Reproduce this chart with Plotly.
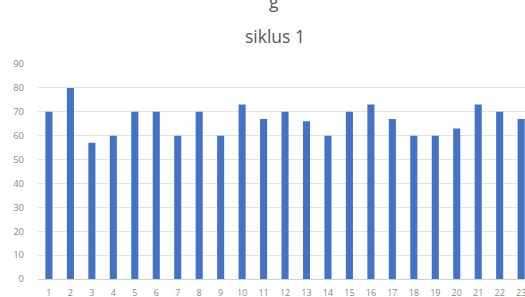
import plotly.graph_objects as go

categories = list(range(1, 24))
values = [70, 80, 57, 60, 70, 70, 60, 70, 60, 73, 67, 70, 66, 60, 70, 73, 67, 60, 60, 63, 73, 70, 67]
y_ticks = [0, 10, 20, 30, 40, 50, 60, 70, 80, 90]

W, H = 525, 297
L, R, T, B = 38, 0, 64, 18
pw, ph = W - L - R, H - T - B

def px_x(p):
    return (p - L) / pw

def px_y(p):
    return (H - B - p) / ph

fig = go.Figure()
fig.add_trace(go.Bar(
    x=categories, y=values,
    marker=dict(color="#4472C4", line=dict(width=0)),
    width=0.33,
))

fig.update_layout(
    width=W, height=H,
    margin=dict(l=L, r=R, t=T, b=B, pad=0),
    paper_bgcolor="white", plot_bgcolor="white",
    showlegend=False,
    font=dict(family="Open Sans, Liberation Sans, sans-serif", color="#595959"),
    xaxis=dict(
        range=[0.49, 23.18],
        tickmode="array", tickvals=categories, ticktext=[str(c) for c in categories],
        tickfont=dict(size=9, color="#8a8a8a"),
        showgrid=False, zeroline=False,
        showline=True, linecolor="#d0d0d0", linewidth=1,
        ticks="", ticklabelstandoff=5,
        ticklabeloverflow="allow",
        automargin=False,
    ),
    yaxis=dict(
        range=[0, 90],
        tickmode="array", tickvals=y_ticks,
        tickfont=dict(size=9.5, color="#8a8a8a"),
        showgrid=True, gridcolor="#e3e3e3", gridwidth=1,
        zeroline=False, showline=False, ticks="", ticklabelstandoff=13,
        automargin=False,
    ),
    annotations=[
        dict(text="siklus 1", xref="paper", yref="paper",
             x=px_x(275), y=px_y(36), xanchor="center", yanchor="middle",
             showarrow=False, font=dict(size=17.5, color="#595959")),
        dict(text="g", xref="paper", yref="paper",
             x=px_x(274), y=px_y(1), xanchor="center", yanchor="middle",
             showarrow=False, font=dict(size=17.5, color="#595959")),
    ],
)

fig.write_html("out.html", config={"displayModeBar": False},
               post_script="document.body.style.margin='0';document.body.style.overflow='hidden';")
